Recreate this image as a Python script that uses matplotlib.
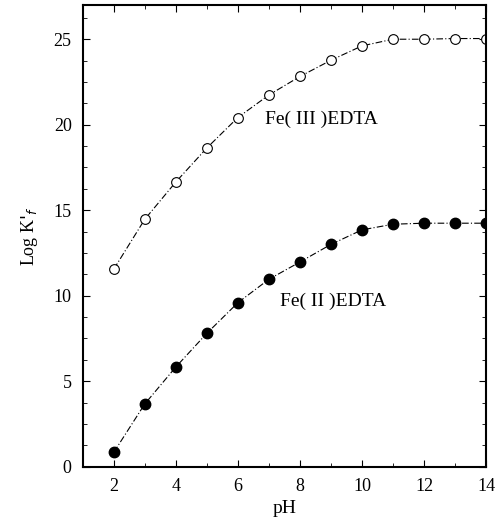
import matplotlib
matplotlib.use("Agg")
import matplotlib.pyplot as plt
from matplotlib.ticker import MultipleLocator

plt.rcParams['font.family'] = ['Liberation Serif', 'DejaVu Serif']

ph = [2, 3, 4, 5, 6, 7, 8, 9, 10, 11, 12, 13, 14]
fe3 = [11.55, 14.47, 16.65, 18.64, 20.42, 21.74, 22.82, 23.77, 24.61, 25.0, 25.0, 25.04, 25.04]
fe2 = [0.84, 3.67, 5.83, 7.8, 9.59, 10.96, 11.97, 13.0, 13.85, 14.18, 14.24, 14.24, 14.24]

fig = plt.figure(figsize=(4.97, 5.29), dpi=100)
ax = fig.add_axes([0.1665, 0.1178, 0.8115, 0.8727])

ax.plot(ph, fe3, linestyle=(0, (6, 2, 1, 2)), color='black', linewidth=0.8, marker='o',
        markersize=7, markerfacecolor='white', markeredgecolor='black', markeredgewidth=0.8)
ax.plot(ph, fe2, linestyle=(0, (6, 2, 1, 2)), color='black', linewidth=0.8, marker='o',
        markersize=7.5, markerfacecolor='black', markeredgecolor='black')

ax.text(6.88, 20.3, 'Fe( III )EDTA', fontsize=14, va='center', ha='left')
ax.text(7.36, 9.65, 'Fe( II )EDTA', fontsize=14, va='center', ha='left')

ax.set_xlim(1, 14)
ax.set_ylim(0, 27)
ax.xaxis.set_major_locator(MultipleLocator(2))
ax.xaxis.set_minor_locator(MultipleLocator(1))
ax.yaxis.set_major_locator(MultipleLocator(5))
ax.yaxis.set_minor_locator(MultipleLocator(1.25))
ax.tick_params(which='both', direction='in', top=True, right=True, labelsize=13)
ax.tick_params(which='major', length=5, pad=8)
ax.tick_params(which='minor', length=3)
for s in ax.spines.values():
    s.set_linewidth(1.5)

ax.set_xlabel('pH', fontsize=14, labelpad=4)
ax.set_ylabel("Log K$'_f$", fontsize=13, labelpad=10)

fig.savefig('out.png', dpi=100)
